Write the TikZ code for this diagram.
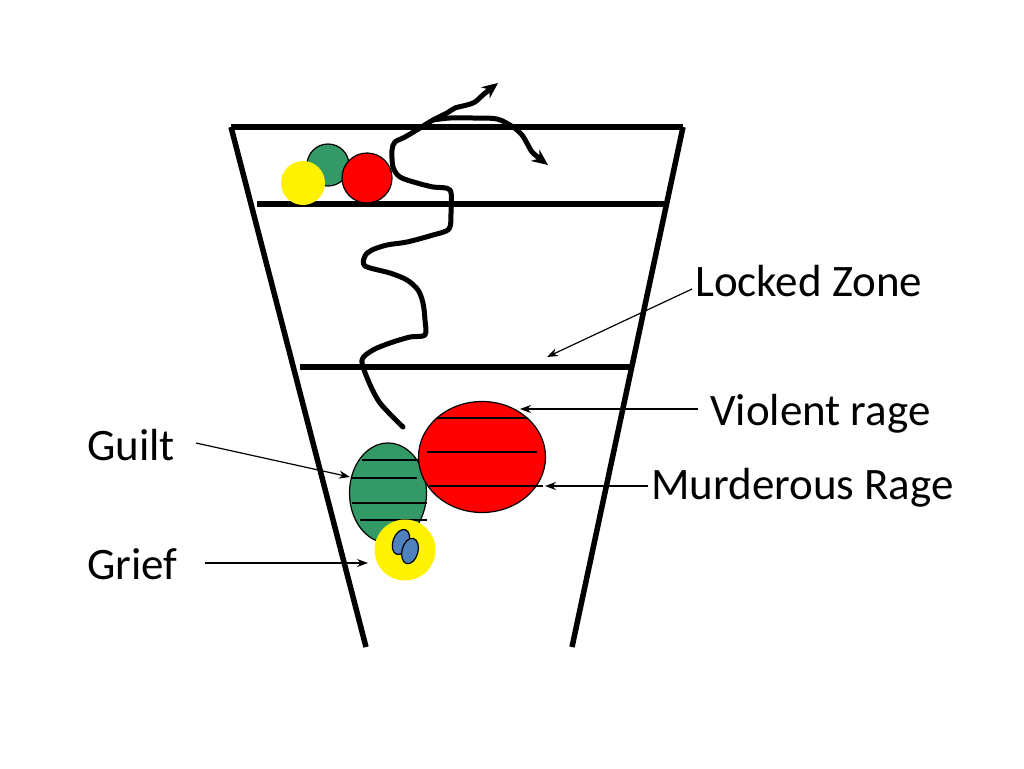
\documentclass[tikz,border=0pt]{standalone}
\usepackage{fontspec}
\setmainfont{Carlito}
\usetikzlibrary{arrows.meta,shapes.geometric}
\definecolor{ballgreen}{RGB}{51,153,102}
\definecolor{ballblue}{RGB}{79,129,189}
\begin{document}
\begin{tikzpicture}[x=1pt,y=-1pt,
  thick line/.style={line width=5.5pt,black},
  thin arrow/.style={line width=1.2pt,-{Stealth[length=11pt,width=8pt]}},
  wig/.style={line width=5pt,line cap=round,line join=round},
  lbl/.style={anchor=base west,inner sep=0pt,font=\fontsize{45}{52}\selectfont},
  ball/.style={circle,draw=black,line width=1.2pt,inner sep=0pt},
  oval/.style={ellipse,draw=black,line width=1.2pt,inner sep=0pt},
  stripe/.style={line width=1.5pt,black}]
\useasboundingbox (0,0) rectangle (1024,768);
\fill[white] (0,0) rectangle (1024,768);
% funnel
\draw[thick line] (231,127) -- (683,127);
\draw[thick line] (231,127) -- (366,647);
\draw[thick line] (683,127) -- (572,647);
\draw[thick line] (257,204) -- (666,204);
\draw[thick line] (300,367) -- (630,367);
% top balls
\node[ball,fill=ballgreen,minimum size=42pt] (g1) at (328,165) {};
\node[circle,fill=yellow,inner sep=0pt,minimum size=44pt] (y1) at (303,183) {};
\node[ball,fill=red,minimum size=50pt] (r1) at (367,178) {};
% wiggly path
\draw[wig,-{Stealth[length=16pt,width=14pt]}] plot[smooth,tension=0.5] coordinates {
(403,427) (380,403) (368,380) (362,360) (373,350) (390,343) (410,337) (425,335)
(425,320) (423,303) (418,290) (407,280) (390,273) (365,266) (365,256) (372,250)
(387,245) (407,242) (433,235) (449,229) (451,212) (450,190) (433,187) (417,183)
(400,177) (393,167) (392,150) (395,142) (405,137) (420,128) (433,120) (447,113)
(455,108) (467,105) (475,102) (484,94) (498,83)};
\draw[wig,-{Stealth[length=16pt,width=14pt]}] plot[smooth,tension=0.5] coordinates {
(433,120) (450,118) (473,118) (497,119) (513,127) (522,135) (528,145) (533,153) (548,165)};
% bottom group
\node[oval,fill=ballgreen,minimum width=77pt,minimum height=100pt] (guiltball) at (388,493) {};
\draw[stripe] (362,460) -- (418,460);
\draw[stripe] (352,478) -- (417,478);
\draw[stripe] (352,503) -- (427,503);
\draw[stripe] (360,520) -- (427,520);
\node[oval,fill=red,minimum width=127pt,minimum height=111pt] (rageball) at (482,457) {};
\draw[stripe] (437,418) -- (527,418);
\draw[stripe] (427,452) -- (537,452);
\draw[stripe] (429,486) -- (543,486);
\node[circle,fill=yellow,inner sep=0pt,minimum size=61pt] (griefball) at (405,550) {};
\node[oval,fill=ballblue,minimum width=16pt,minimum height=26pt,rotate=-20] (b1) at (401,542) {};
\node[oval,fill=ballblue,minimum width=16pt,minimum height=26pt,rotate=-15] (b2) at (410,551) {};
% labels
\node[lbl] (locked) at (695,296) {Locked Zone};
\node[lbl] (violent) at (710,425) {Violent rage};
\node[lbl] (murder) at (651,499) {Murderous Rage};
\node[lbl] (guilt) at (87,460) {Guilt};
\node[lbl] (grief) at (87,579) {Grief};
% connector ends
\coordinate (lockedS) at (692,289);
\coordinate (lockedT) at (547,357);
\coordinate (violentS) at (698,409);
\coordinate (violentT) at (520,409);
\coordinate (murderS) at (648,486);
\coordinate (murderT) at (545,486);
\coordinate (guiltS) at (196,443);
\coordinate (guiltT) at (350,477);
\coordinate (griefS) at (205,563);
\coordinate (griefT) at (368,563);
\draw[thin arrow] (lockedS) -- (lockedT);
\draw[thin arrow] (violentS) -- (violentT);
\draw[thin arrow] (murderS) -- (murderT);
\draw[thin arrow] (guiltS) -- (guiltT);
\draw[thin arrow] (griefS) -- (griefT);
\end{tikzpicture}
\end{document}
